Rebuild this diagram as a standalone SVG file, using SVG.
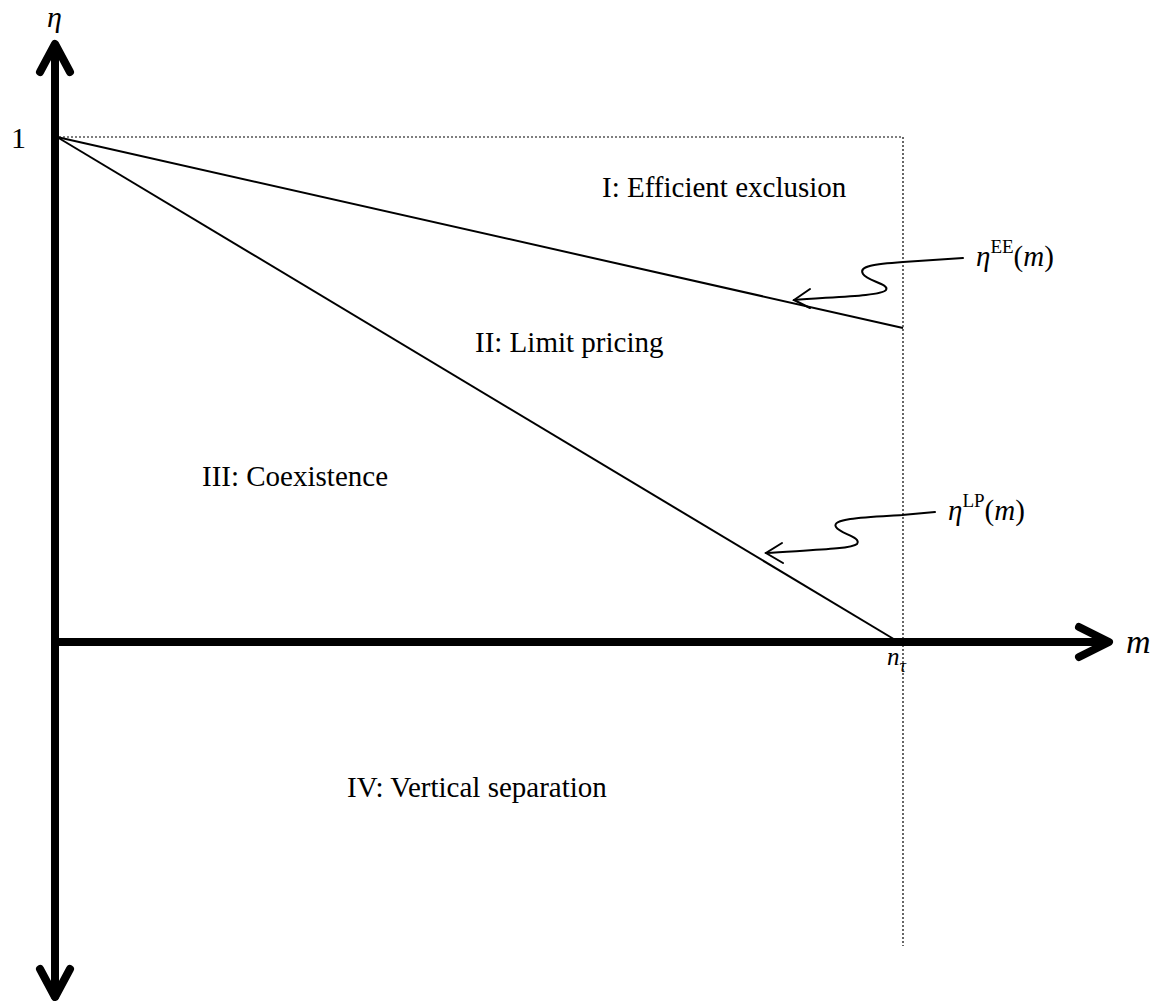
<svg xmlns="http://www.w3.org/2000/svg" width="1170" height="1001" viewBox="0 0 1170 1001">
<style>
text{font-family:"Liberation Serif","Times New Roman",serif;fill:#000;}
.lbl{font-size:29px;}
.it{font-style:italic;}
.axis{stroke:#000;stroke-width:8;fill:none;stroke-linecap:round;stroke-linejoin:round;}
.thin{stroke:#000;stroke-width:2;fill:none;}
.curl{stroke:#000;stroke-width:2;fill:none;stroke-linecap:round;}
.dot{stroke:#000;stroke-width:1.2;fill:none;stroke-dasharray:2 2;}
</style>
<rect width="1170" height="1001" fill="#fff"/>
<g id="connectors">
  <path class="dot" d="M59,137 H903 V946"/>
  <line class="thin" x1="57" y1="137" x2="903" y2="328"/>
  <line class="thin" x1="57" y1="137" x2="897" y2="641"/>
  <path class="curl" d="M963,258 L903,262 C875,264 858,266 863,274 C867,281 890,284 886,290 C882,296 830,297 794,300"/>
  <path class="curl" d="M810,289 L794,300 L810,308"/>
  <path class="curl" d="M935,512 L902,515 C870,517 830,518 836,527 C840,534 862,537 857,544 C852,549 810,550 766,553"/>
  <path class="curl" d="M782,543 L766,553 L783,563"/>
</g>
<g id="axes">
  <line class="axis" x1="55" y1="46" x2="55" y2="996"/>
  <path class="axis" d="M40,72 L55,44 L70,72"/>
  <path class="axis" d="M40,969 L55,997 L70,969"/>
  <line class="axis" x1="55" y1="642" x2="1107" y2="642"/>
  <path class="axis" d="M1079,627 L1109,642 L1079,657"/>
</g>
<g id="axis-labels">
  <text class="it" x="47" y="27" font-size="30">η</text>
  <text x="11" y="148" font-size="30">1</text>
  <text class="it" x="1126" y="653" font-size="34">m</text>
  <text x="887" y="665"><tspan class="it" font-size="25">n</tspan><tspan class="it" font-size="18" dy="7">τ</tspan></text>
</g>
<g id="region-I"><text class="lbl" x="602" y="197">I: Efficient exclusion</text></g>
<g id="region-II"><text class="lbl" x="475" y="352">II: Limit pricing</text></g>
<g id="region-III"><text class="lbl" x="202" y="486">III: Coexistence</text></g>
<g id="region-IV"><text class="lbl" x="347" y="797">IV: Vertical separation</text></g>
<g id="label-EE"><text class="lbl" x="976" y="266"><tspan class="it">η</tspan><tspan font-size="19" dy="-13">EE</tspan><tspan dy="13">(</tspan><tspan class="it">m</tspan><tspan>)</tspan></text></g>
<g id="label-LP"><text class="lbl" x="948" y="520"><tspan class="it">η</tspan><tspan font-size="19" dy="-13">LP</tspan><tspan dy="13">(</tspan><tspan class="it">m</tspan><tspan>)</tspan></text></g>
</svg>
